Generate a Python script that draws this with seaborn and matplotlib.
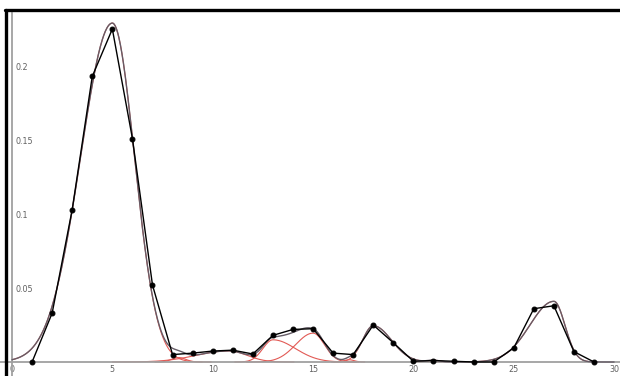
import numpy as np
import pandas as pd
import matplotlib
matplotlib.use("Agg")
import matplotlib.pyplot as plt
import seaborn as sns
from matplotlib.lines import Line2D

# measured histogram points
x_obs = list(range(1, 30))
y_obs = [0.0, 0.033, 0.103, 0.193, 0.225, 0.151, 0.052, 0.005, 0.006, 0.0074,
         0.008, 0.0054, 0.018, 0.022, 0.0225, 0.006, 0.005, 0.025, 0.013, 0.0005,
         0.001, 0.0005, 0.0, 0.0, 0.0095, 0.036, 0.038, 0.007, 0.0]

# fitted peak components (split gaussians): centre, left width, right width, height
peak_center = [5.0, 8.3, 10.8, 13.0, 15.0, 16.8, 18.0, 21.0, 27.0]
peak_wleft = [1.58, 0.35, 1.6, 0.5, 0.86, 0.25, 0.53, 0.3, 1.2]
peak_wright = [1.10, 0.35, 0.9, 1.12, 0.56, 0.25, 0.9, 0.3, 0.55]
peak_height = [0.229, 0.003, 0.0075, 0.015, 0.0195, 0.0015, 0.0245, 0.0012, 0.041]

sns.set_style("white")
plt.rcParams["font.family"] = ["DejaVu Sans"]

fig = plt.figure(figsize=(6.2, 3.76), dpi=100)
ax = fig.add_axes([0, 0, 1, 1])

grid = np.linspace(0, 30, 1201)
total = np.zeros_like(grid)
for c, wl, wr, h in zip(peak_center, peak_wleft, peak_wright, peak_height):
    w = np.where(grid < c, wl, wr)
    comp = h * np.exp(-(grid - c) ** 2 / (2 * w ** 2))
    total += comp
    mask = comp > 1e-5
    sns.lineplot(x=grid[mask], y=comp[mask], ax=ax, color="#e25a55", linewidth=0.8,
                 zorder=2)

sns.lineplot(x=grid, y=total, ax=ax, color="#655c66", linewidth=1.0, zorder=3)

obs = pd.DataFrame({"x": x_obs, "y": y_obs})
sns.lineplot(data=obs, x="x", y="y", ax=ax, color="black", linewidth=1.0,
             marker="o", markersize=3.5, markeredgecolor="black", zorder=4)

ymin, ymax = -14 / 1480, 362 / 1480
ax.set_xlim(-12 / 20.07, 608 / 20.07)
ax.set_ylim(ymin, ymax)

for s in ["top", "right"]:
    ax.spines[s].set_visible(False)
for s in ["left", "bottom"]:
    ax.spines[s].set_position(("data", 0))
    ax.spines[s].set_color("#a0a0a0")
    ax.spines[s].set_linewidth(1.3)
ax.spines["left"].set_bounds(ymin, 0.236)

ax.set_xticks([0, 5, 10, 15, 20, 25, 30])
ax.set_xticks(range(0, 31), minor=True)
ax.set_xticklabels(["0", "5", "10", "15", "20", "25", "30"])
ax.set_yticks([0.05, 0.1, 0.15, 0.2])
ax.set_yticklabels(["0.05", "0.1", "0.15", "0.2"])
ax.tick_params(axis="both", which="both", direction="inout", length=3,
               width=0.8, color="#808080", labelsize=5.8, labelcolor="#606060")
ax.tick_params(axis="x", pad=1)
ax.tick_params(axis="y", pad=-4)
for lab in ax.get_yticklabels():
    lab.set_horizontalalignment("left")
ax.set_xlabel("")
ax.set_ylabel("")

# screenshot frame on top and left
fig.add_artist(Line2D([6 / 620, 6 / 620], [0, 1 - 10 / 376], color="black",
                      linewidth=2.4, transform=fig.transFigure))
fig.add_artist(Line2D([5 / 620, 1], [1 - 10 / 376, 1 - 10 / 376], color="black",
                      linewidth=2.4, transform=fig.transFigure))

fig.savefig("out.png", dpi=100)
